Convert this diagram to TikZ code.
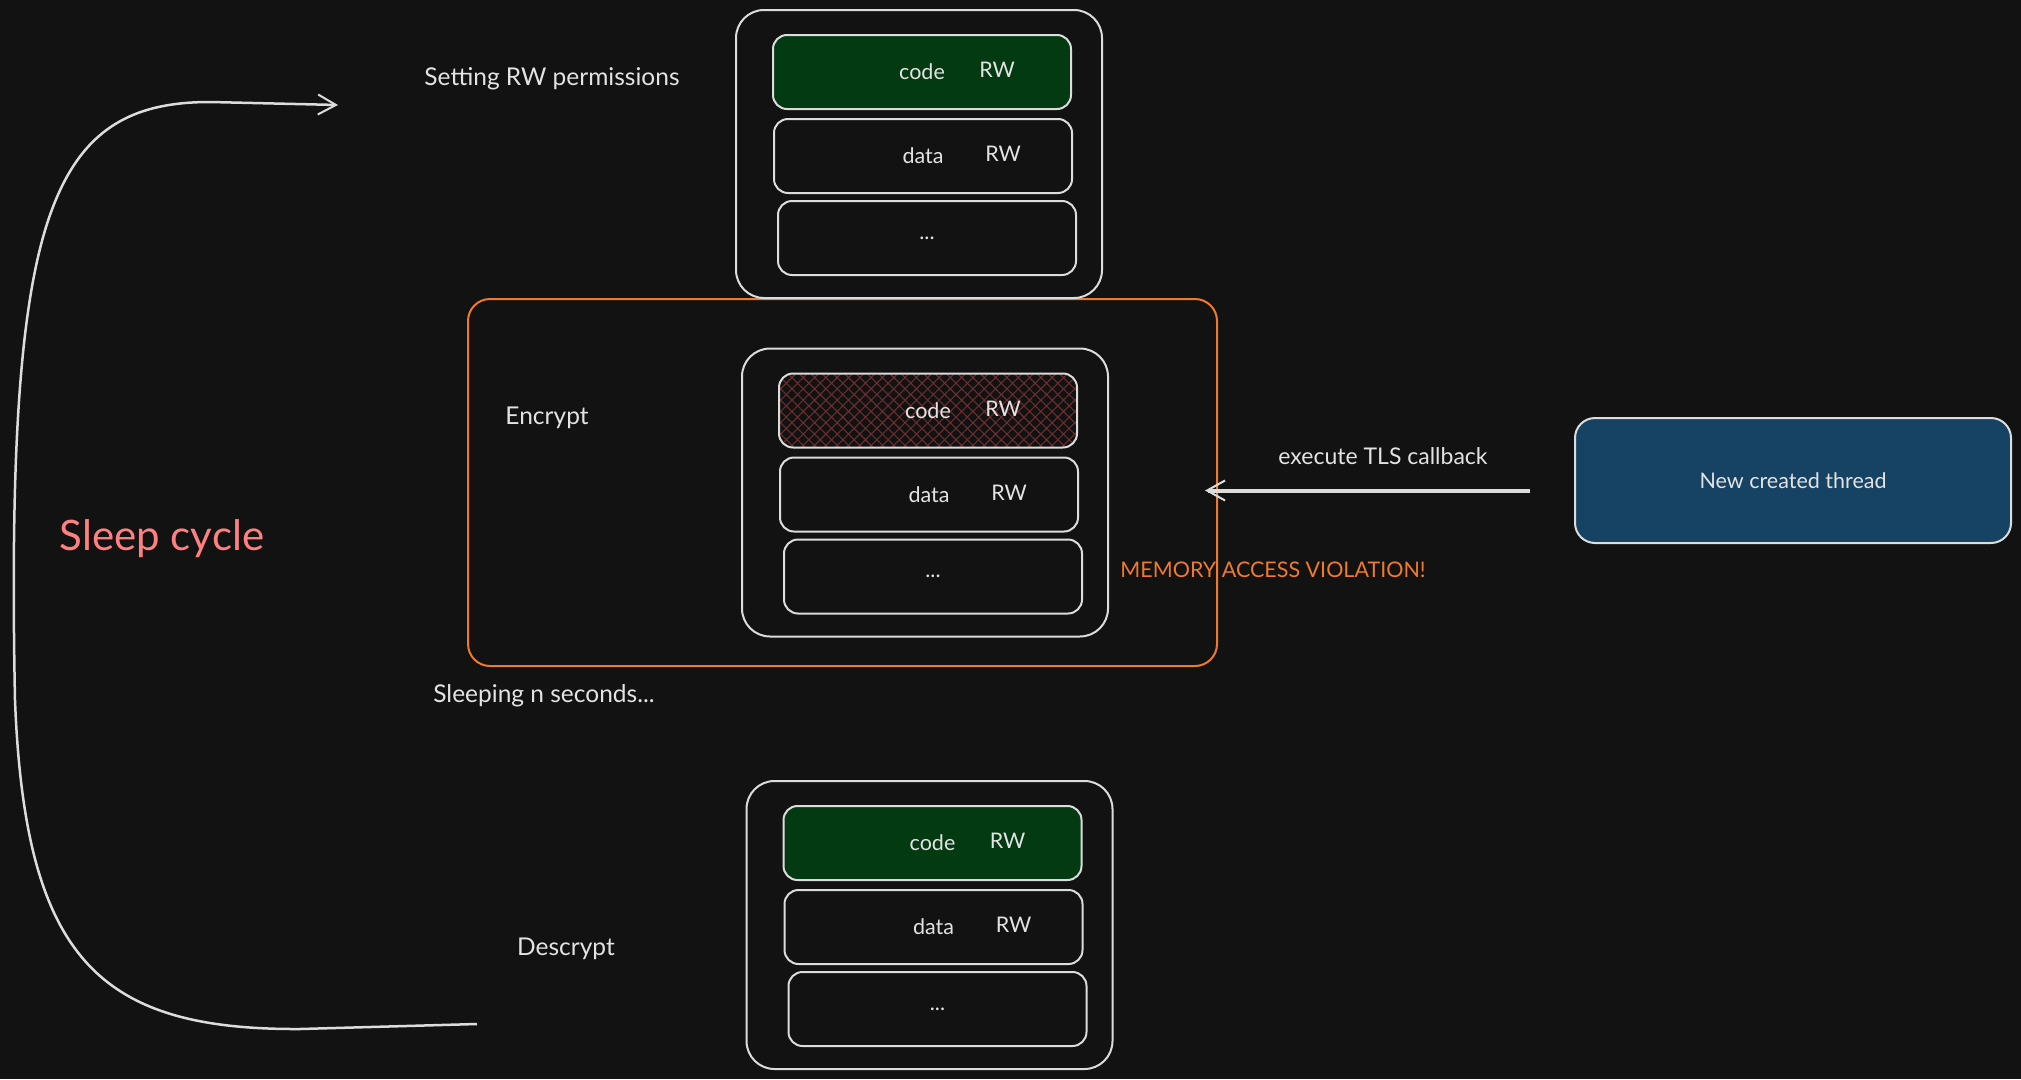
\documentclass[tikz,border=0pt]{standalone}
\usepackage{fontspec}
\setmainfont{Lato}
\usetikzlibrary{arrows.meta,patterns.meta}

\definecolor{bg}{HTML}{121212}
\definecolor{ink}{HTML}{E3E3E3}
\definecolor{edge}{HTML}{DCDCDC}
\definecolor{leaf}{HTML}{043A12}
\definecolor{hatch}{HTML}{6A2E2E}
\definecolor{navy}{HTML}{164263}
\definecolor{alert}{HTML}{EE7A2E}
\definecolor{salmon}{HTML}{FF8080}

\begin{document}
\begin{tikzpicture}[x=1pt,y=-1pt,
  font=\fontsize{21.5}{25}\selectfont, text=ink,
  grp/.style={draw=edge,line width=2pt,rounded corners=28pt,minimum width=366pt,minimum height=288pt},
  seg/.style={draw=edge,line width=2pt,rounded corners=14pt,minimum width=298pt,minimum height=74pt},
  codegreen/.style={fill=leaf},
  codehatch/.style={pattern={Hatch[angle=45,distance=8pt,line width=1.1pt]},pattern color=hatch},
  tag/.style={anchor=base},
  caption/.style={font=\fontsize{24.5}{28}\selectfont},
  flow/.style={draw=edge,line width=2.5pt,-{Straight Barb[length=18pt,width=20pt,line width=2pt]}}]

% background
\fill[bg] (0,0) rectangle (2021,1079);

% encrypt frame
\node[draw=alert,line width=2pt,rounded corners=22pt,minimum width=749pt,minimum height=367pt] (encbox) at (842.5,482.5) {};

% memory maps
\foreach \g/\gx/\gy/\cs in {top/919/154/codegreen, mid/925/492.5/codehatch, bot/929.5/925/codegreen}{
  \node[grp] (\g-out) at (\gx,\gy) {};
  \node[seg,\cs] (\g-code) at (\gx+3,\gy-82) {code};
  \node[seg] (\g-data) at (\gx+4,\gy+2) {data};
  \node[seg] (\g-dots) at (\gx+8,\gy+84) {...};
  \node[tag] at ([shift={(75,-2)}]\g-code.base) {RW};
  \node[tag] at ([shift={(80,-2)}]\g-data.base) {RW};
}

% labels
\node[caption] (setrw) at (552,79) {Setting RW permissions};
\node[caption] (encrypt) at (547,418) {Encrypt};
\node[caption] (sleepn) at (544,696) {Sleeping n seconds...};
\node[caption] (decrypt) at (566,949) {Descrypt};
\node[text=salmon,font=\fontsize{42}{46}\selectfont] (cycle) at (162,539) {Sleep cycle};
\node[text=alert] (violation) at (1273,570) {MEMORY ACCESS VIOLATION!};

% thread
\node[draw=edge,fill=navy,line width=2pt,rounded corners=20pt,minimum width=436pt,minimum height=125pt] (thread) at (1793,480.5) {New created thread};
\node[font=\fontsize{23}{27}\selectfont] (tls) at (1383,456) {execute TLS callback};
\coordinate (tls-end) at (1205,490.5);
\draw[flow,line width=4pt,shorten <=44pt] ([yshift=-10pt]thread.west) -- (tls-end);

% cycle arrow
\coordinate (cyc-from) at (477,1024);
\coordinate (cyc-to) at (338,105);
\draw[flow] (cyc-from) -- (300,1029) .. controls (100,1030) and (25,960) .. (15,700)
  .. controls (10,450) and (20,300) .. (50,215) .. controls (80,130) and (130,102) .. (210,102) -- (cyc-to);
\end{tikzpicture}
\end{document}
